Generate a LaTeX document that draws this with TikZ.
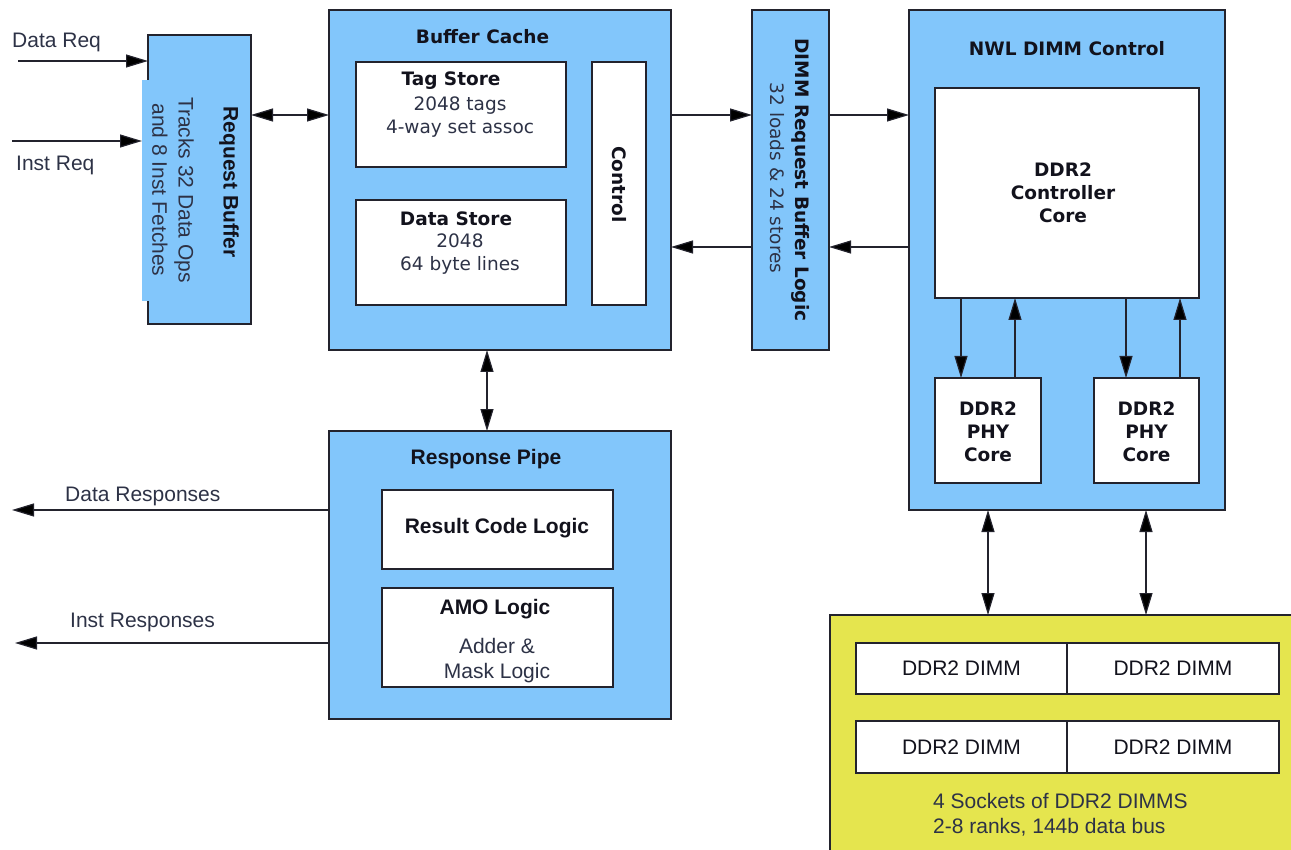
\documentclass[tikz,border=0pt]{standalone}
\usepackage{fontspec}
\setmainfont{Liberation Sans}
\newfontfamily\dv{DejaVu Sans}
\usetikzlibrary{arrows.meta}
\definecolor{skyfill}{RGB}{130,198,251}
\definecolor{olivefill}{RGB}{229,229,78}
\definecolor{edge}{RGB}{35,35,45}
\definecolor{ink}{RGB}{18,18,28}
\definecolor{softink}{RGB}{45,50,70}

\begin{document}
\begin{tikzpicture}[x=1pt,y=-1pt,
  blk/.style={draw=edge, line width=1.2pt, fill=skyfill, inner sep=0pt, outer sep=0pt},
  wblk/.style={blk, fill=white},
  yblk/.style={blk, fill=olivefill},
  txt/.style={inner sep=0pt, text=ink},
  arreg/.style={txt, font=\fontsize{21}{25}\selectfont, text=softink},
  arbold/.style={txt, font=\fontsize{21}{25}\selectfont\bfseries},
  dvreg/.style={txt, font=\dv\fontsize{18.5}{22.5}\selectfont, text=softink},
  dvbold/.style={txt, font=\dv\fontsize{18.5}{23}\selectfont\bfseries},
  wire/.style={draw=edge, line width=1.2pt},
  flow/.style={wire, -{Triangle[length=22pt,width=13pt,fill=black]}},
  bothway/.style={wire, {Triangle[length=22pt,width=13pt,fill=black]}-{Triangle[length=22pt,width=13pt,fill=black]}}]

\useasboundingbox (0,0) rectangle (1291,850);

% ---------- Request Buffer ----------
\node[blk, minimum width=103pt, minimum height=289pt] (rb) at (199.5,179.5) {};
\node[fill=skyfill, inner sep=0pt, outer sep=0pt, minimum width=58pt, minimum height=221pt] (rbtab) at (171,190.5) {};
\node[arbold, rotate=-90] (rbt) at (229,182) {Request Buffer};
\node[arreg, rotate=-90] (rbl1) at (184,190) {Tracks 32 Data Ops};
\node[arreg, rotate=-90] (rbl2) at (160,190) {and 8 Inst Fetches};

% ---------- Buffer Cache ----------
\node[blk, minimum width=342pt, minimum height=340pt] (bc) at (500,180) {};
\node[dvbold] (bct) at (482.5,37) {Buffer Cache};
\node[wblk, minimum width=210pt, minimum height=105pt] (tag) at (461,114.5) {};
\node[dvbold] (tagt) at (451,81) {Tag Store};
\node[dvreg, align=center] (tagl) at (460,117) {2048 tags\\4-way set assoc};
\node[wblk, minimum width=210pt, minimum height=105pt] (dat) at (461,252.5) {};
\node[dvbold] (datt) at (456,219) {Data Store};
\node[dvreg, align=center] (datl) at (460,254) {2048\\64 byte lines};
\node[wblk, minimum width=54pt, minimum height=243pt] (ctl) at (619,183.5) {};
\node[dvbold, rotate=-90] (ctlt) at (619,184.5) {Control};

% ---------- DIMM Request Buffer Logic ----------
\node[blk, minimum width=77pt, minimum height=340pt] (drb) at (790.5,180) {};
\node[dvbold, rotate=-90] (drbt) at (801,180) {DIMM Request Buffer Logic};
\node[dvreg, rotate=-90] (drbl) at (777,178) {32 loads \& 24 stores};

% ---------- NWL DIMM Control ----------
\node[blk, minimum width=316pt, minimum height=500pt] (nwl) at (1067,260) {};
\node[dvbold] (nwlt) at (1067,49) {NWL DIMM Control};
\node[wblk, minimum width=264pt, minimum height=210pt] (core) at (1067,193) {};
\node[dvbold, align=center] (coret) at (1063,193) {DDR2\\Controller\\Core};
\node[wblk, minimum width=106pt, minimum height=105pt] (phya) at (988,430.5) {};
\node[dvbold, align=center] (phyat) at (988,431.5) {DDR2\\PHY\\Core};
\node[wblk, minimum width=105pt, minimum height=105pt] (phyb) at (1146.5,430.5) {};
\node[dvbold, align=center] (phybt) at (1146.5,431.5) {DDR2\\PHY\\Core};

% ---------- Response Pipe ----------
\node[blk, minimum width=342pt, minimum height=288pt] (rp) at (500,575) {};
\node[arbold] (rpt) at (486,459) {Response Pipe};
\node[wblk, minimum width=231pt, minimum height=79pt] (rcl) at (497.5,529.5) {};
\node[arbold] (rclt) at (497,528) {Result Code Logic};
\node[wblk, minimum width=231pt, minimum height=99pt] (amo) at (497.5,637.5) {};
\node[arbold] (amot) at (495,609) {AMO Logic};
\node[arreg, align=center] (amol) at (497,661) {Adder \&\\Mask Logic};

% ---------- DIMM sockets ----------
\node[yblk, minimum width=470pt, minimum height=250pt] (sock) at (1065,740) {};
\node[wblk, minimum width=211pt, minimum height=51pt, text=ink, font=\fontsize{21}{25}\selectfont] (d1) at (961.5,668.5) {DDR2 DIMM};
\node[wblk, minimum width=212pt, minimum height=51pt, text=ink, font=\fontsize{21}{25}\selectfont] (d2) at (1173,668.5) {DDR2 DIMM};
\node[wblk, minimum width=211pt, minimum height=52pt, text=ink, font=\fontsize{21}{25}\selectfont] (d3) at (961.5,747) {DDR2 DIMM};
\node[wblk, minimum width=212pt, minimum height=52pt, text=ink, font=\fontsize{21}{25}\selectfont] (d4) at (1173,747) {DDR2 DIMM};
\node[arreg, align=left, anchor=west] (sockt) at (933,815) {4 Sockets of DDR2 DIMMS\\2-8 ranks, 144b data bus};

% ---------- free ends and guide coordinates ----------
\coordinate (dreq) at (18,61);
\coordinate (ireq) at (12,141);
\coordinate (dresp) at (12,510);
\coordinate (iresp) at (15,643);
\coordinate (rowa) at (0,115);
\coordinate (rowb) at (0,247);
\coordinate (colbc) at (487,0);
\coordinate (cola) at (961,0);
\coordinate (colb) at (1015,0);
\coordinate (colc) at (1126,0);
\coordinate (cold) at (1180,0);
\coordinate (cole) at (988,0);
\coordinate (colf) at (1146,0);

\node[arreg, anchor=west] (dreqt) at (12,42) {Data Req};
\node[arreg, anchor=west] (ireqt) at (16,165) {Inst Req};
\node[arreg, anchor=west] (drespt) at (65,496) {Data Responses};
\node[arreg, anchor=west] (irespt) at (70,622) {Inst Responses};

% ---------- connectors ----------
\draw[flow] (dreq) -- (rb.west |- dreq);
\draw[flow] (ireq) -- (rbtab.west |- ireq);
\draw[bothway] (rb.east |- rowa) -- (bc.west |- rowa);
\draw[flow] (bc.east |- rowa) -- (drb.west |- rowa);
\draw[flow] (drb.east |- rowa) -- (nwl.west |- rowa);
\draw[flow] (nwl.west |- rowb) -- (drb.east |- rowb);
\draw[flow] (drb.west |- rowb) -- (bc.east |- rowb);
\draw[bothway] (bc.south -| colbc) -- (rp.north -| colbc);
\draw[flow] (rp.west |- dresp) -- (dresp);
\draw[flow] (rp.west |- iresp) -- (iresp);
\draw[flow] (core.south -| cola) -- (phya.north -| cola);
\draw[flow] (phya.north -| colb) -- (core.south -| colb);
\draw[flow] (core.south -| colc) -- (phyb.north -| colc);
\draw[flow] (phyb.north -| cold) -- (core.south -| cold);
\draw[bothway] (nwl.south -| cole) -- (sock.north -| cole);
\draw[bothway] (nwl.south -| colf) -- (sock.north -| colf);
\end{tikzpicture}
\end{document}
